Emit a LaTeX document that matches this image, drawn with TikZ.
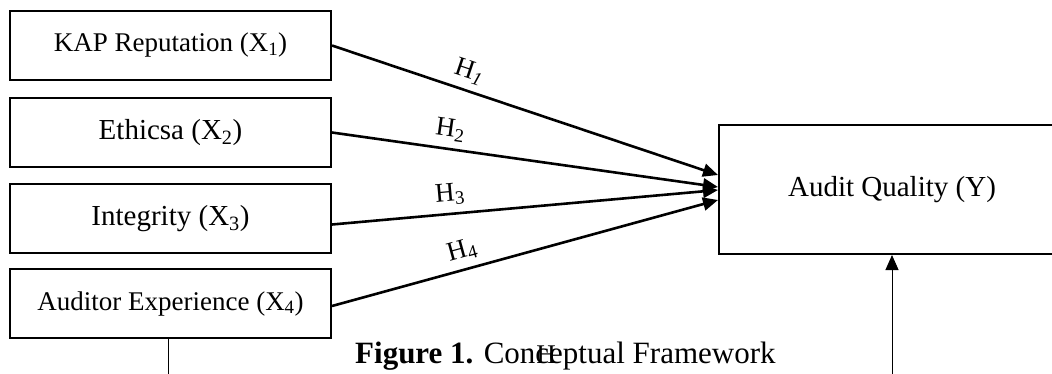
\documentclass[tikz,border=0pt]{standalone}
\usepackage{fontspec}
\setmainfont{Liberation Serif}
\usetikzlibrary{arrows.meta}
\newcommand{\sbs}[1]{\textsubscript{#1}}
\tikzset{
  varbox/.style={draw, line width=2pt, minimum width=321pt, minimum height=69pt, inner sep=0pt, font=\fontsize{27}{30}\selectfont},
  bigtext/.style={font=\fontsize{29}{32}\selectfont},
  hyp/.style={line width=2.6pt, -{Triangle[length=15pt,width=13pt]}},
  hlabel/.style={sloped, above=7pt, inner sep=0pt, font=\fontsize{27}{30}\selectfont},
  thinarrow/.style={line width=1pt, -{Triangle[length=15pt,width=13pt]}}
}
\begin{document}
\begin{tikzpicture}[x=1pt,y=-1pt]
\useasboundingbox (0,0) rectangle (1052,373);
\clip (0,0) rectangle (1052,373);
\node[varbox] (b1) at (170.5,45.5) {KAP Reputation (X\sbs{1})};
\node[varbox, bigtext] (b2) at (170.5,132.5) {Ethicsa (X\sbs{2})};
\node[varbox, bigtext] (b3) at (170.5,218.5) {Integrity (X\sbs{3})};
\node[varbox] (b4) at (170.5,303.5) {Auditor Experience (X\sbs{4})};
\node[draw, line width=2pt, minimum width=346pt, minimum height=129pt, inner sep=0pt, bigtext] (y) at (892,189.5) {Audit Quality (Y)};
\coordinate (d4) at (168,380);
\coordinate (up) at (892,380);
\draw[hyp] (b1.east) -- node[pos=0.34, hlabel] (h1) {H\sbs{\itshape 1}} ([yshift=14.5pt]y.west);
\draw[hyp] (b2.east) -- node[pos=0.30, hlabel] (h2) {H\sbs{2}} ([yshift=2.5pt]y.west);
\draw[hyp] ([yshift=-6pt]b3.east) -- node[pos=0.31, hlabel] (h3) {H\sbs{3}} ([yshift=-0.5pt]y.west);
\draw[hyp] ([yshift=-2.5pt]b4.east) -- node[pos=0.35, hlabel] (h4) {H\sbs{4}} ([yshift=-10.5pt]y.west);
\draw[line width=1pt] (b4.south -| d4) -- (d4);
\draw[thinarrow] (up) -- (y.south -| up);
\node[anchor=base west, inner sep=0pt, font=\fontsize{31}{35}\selectfont] (cap) at (355,363) {\textbf{Figure 1.} Con\rlap{\kern1pt\fontsize{27}{30}\selectfont\upshape H}ceptual Framework};
\end{tikzpicture}
\end{document}
